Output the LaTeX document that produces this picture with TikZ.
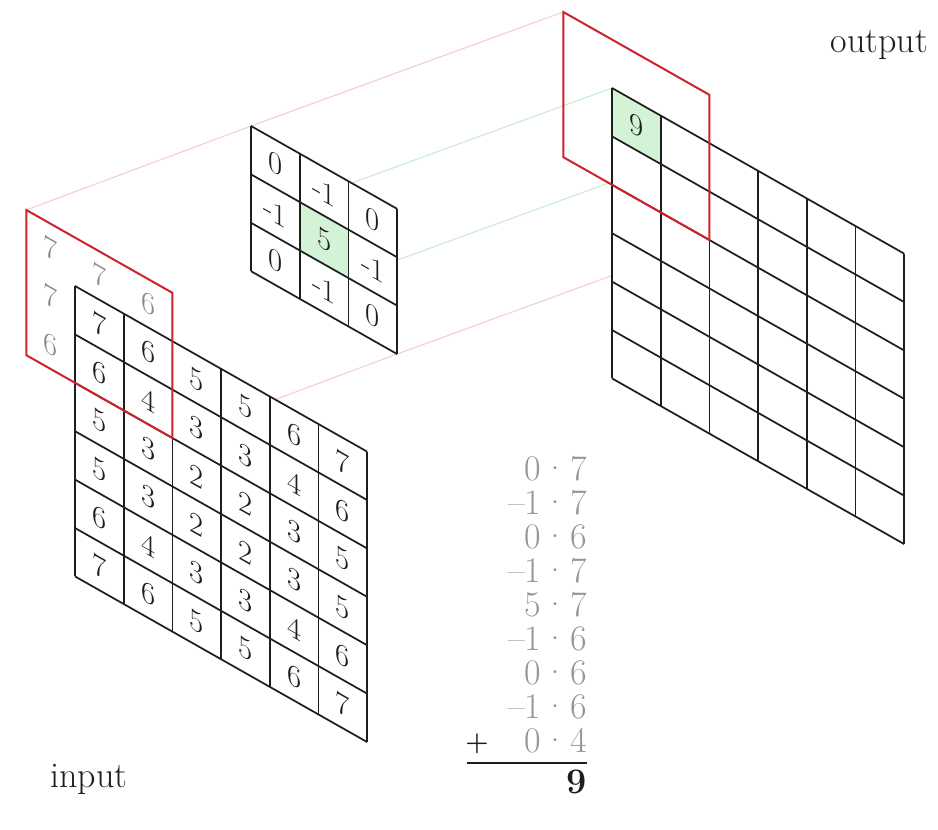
\documentclass[tikz,border=0pt]{standalone}
\usepackage{fontspec}
\usetikzlibrary{backgrounds}
\definecolor{redframe}{RGB}{205,35,45}
\definecolor{cellgreen}{RGB}{212,242,214}
\definecolor{faintred}{RGB}{245,210,212}
\definecolor{faintgreen}{RGB}{208,236,214}
\definecolor{padgray}{RGB}{140,140,140}
\definecolor{sumgray}{RGB}{150,150,150}
\definecolor{ink}{RGB}{30,30,30}
\def\cw{48.7}
\def\ch{48.4}
\tikzset{
  gridline/.style={line width=1.3pt, draw=ink},
  frameline/.style={line width=1.5pt, draw=redframe},
  cellnum/.style={transform shape, inner sep=0pt, font=\fontsize{23}{26}\selectfont, text=ink},
  padnum/.style={cellnum, text=padgray},
  projred/.style={line width=0.9pt, draw=faintred},
  projgreen/.style={line width=0.9pt, draw=faintgreen},
  sumline/.style={anchor=base east, inner sep=0pt, font=\fontsize{27}{30}\selectfont, text=sumgray},
  label/.style={inner sep=0pt, font=\fontsize{27}{30}\selectfont, text=ink}
}
\newcommand{\dt}{\hspace{0.04em}·\hspace{0.04em}}
\begin{document}
\begin{tikzpicture}[x=0.75pt,y=-0.75pt]
\useasboundingbox (0,0) rectangle (938,830);

% ---------------- input plane ----------------
\begin{scope}[shift={(75,286)}, yslant=-0.567]
  \coordinate (inTL) at (-\cw,-\ch);
  \coordinate (inBR) at (2*\cw,2*\ch);
  % padding values
  \node[padnum] (pad-a) at (-0.5*\cw,-0.5*\ch) {7};
  \node[padnum] (pad-b) at (0.5*\cw,-0.5*\ch) {7};
  \node[padnum] (pad-c) at (1.5*\cw,-0.5*\ch) {6};
  \node[padnum] (pad-d) at (-0.5*\cw,0.5*\ch) {7};
  \node[padnum] (pad-e) at (-0.5*\cw,1.5*\ch) {6};
  \fill[white] (0,0) rectangle (6*\cw,6*\ch);
  \foreach \i in {0,...,6} {
    \draw[gridline] (\i*\cw,0) -- (\i*\cw,6*\ch);
    \draw[gridline] (0,\i*\ch) -- (6*\cw,\i*\ch);
  }
  \foreach \r/\rowvals in {0/{7,6,5,5,6,7},1/{6,4,3,3,4,6},2/{5,3,2,2,3,5},3/{5,3,2,2,3,5},4/{6,4,3,3,4,6},5/{7,6,5,5,6,7}} {
    \foreach \v [count=\c from 0] in \rowvals {
      \node[cellnum] (in-\r-\c) at ({(\c+0.5)*\cw},{(\r+0.5)*\ch}) {\v};
    }
  }
  \draw[frameline] (inTL) rectangle (inBR);
\end{scope}

% ---------------- kernel plane ----------------
\begin{scope}[shift={(251,126)}, yslant=-0.567]
  \coordinate (kTL) at (0,0);
  \coordinate (kBR) at (3*\cw,3*\ch);
  \coordinate (kgTL) at (\cw,\ch);
  \coordinate (kgBR) at (2*\cw,2*\ch);
  \fill[white] (kTL) rectangle (kBR);
  \fill[cellgreen] (kgTL) rectangle (kgBR);
  \foreach \i in {0,...,3} {
    \draw[gridline] (\i*\cw,0) -- (\i*\cw,3*\ch);
    \draw[gridline] (0,\i*\ch) -- (3*\cw,\i*\ch);
  }
  \foreach \r/\rowvals in {0/{0,-1,0},1/{-1,5,-1},2/{0,-1,0}} {
    \foreach \v [count=\c from 0] in \rowvals {
      \node[cellnum] (k-\r-\c) at ({(\c+0.5)*\cw},{(\r+0.5)*\ch}) {\v};
    }
  }
\end{scope}

% ---------------- output plane ----------------
\begin{scope}[shift={(612,88)}, yslant=-0.567]
  \coordinate (outTL) at (-\cw,-\ch);
  \coordinate (outBR) at (2*\cw,2*\ch);
  \coordinate (ogTL) at (0,0);
  \coordinate (ogBR) at (\cw,\ch);
  \fill[white] (0,0) rectangle (6*\cw,6*\ch);
  \fill[cellgreen] (ogTL) rectangle (ogBR);
  \foreach \i in {0,...,6} {
    \draw[gridline] (\i*\cw,0) -- (\i*\cw,6*\ch);
    \draw[gridline] (0,\i*\ch) -- (6*\cw,\i*\ch);
  }
  \node[cellnum] (out-0-0) at (0.5*\cw,0.5*\ch) {9};
  \draw[frameline] (outTL) rectangle (outBR);
\end{scope}

% ---------------- background and projection lines ----------------
\begin{scope}[on background layer]
  \fill[white] (0,0) rectangle (938,830);
  \draw[projred] (inTL) -- (kTL) -- (outTL);
  \draw[projred] (inBR) -- (kBR) -- (outBR);
  \draw[projgreen] (kgTL) -- (ogTL);
  \draw[projgreen] (kgBR) -- (ogBR);
\end{scope}

% ---------------- sum ----------------
\node[sumline] (s1) at (587,480) {0\dt 7};
\node[sumline] (s2) at (587,514) {–1\dt 7};
\node[sumline] (s3) at (587,548) {0\dt 6};
\node[sumline] (s4) at (587,582) {–1\dt 7};
\node[sumline] (s5) at (587,616) {5\dt 7};
\node[sumline] (s6) at (587,650) {–1\dt 6};
\node[sumline] (s7) at (587,684) {0\dt 6};
\node[sumline] (s8) at (587,718) {–1\dt 6};
\node[sumline] (s9) at (587,752) {0\dt 4};
\node[label, anchor=base, font=\fontsize{20}{24}\selectfont\bfseries] (plus) at (477,750) {+};
\coordinate (ruleL) at (467,763);
\coordinate (ruleR) at (587,763);
\draw[line width=1.6pt, ink] (ruleL) -- (ruleR);
\node[label, anchor=base east, font=\fontsize{27}{30}\selectfont\bfseries] (res) at (587,793) {9};

% ---------------- labels ----------------
\node[label, anchor=base west] (inlabel) at (50,787) {input};
\node[label, anchor=base east] (outlabel) at (928,53) {output};
\end{tikzpicture}
\end{document}
